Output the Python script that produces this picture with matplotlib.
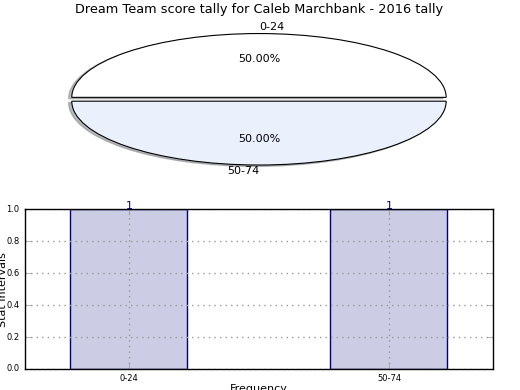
import matplotlib
matplotlib.use("Agg")
import matplotlib.pyplot as plt
import numpy as np

plt.style.use('classic')

title = "Dream Team score tally for Caleb Marchbank - 2016 tally"
categories = ["0-24", "50-74"]
counts = [1, 1]
pie_colors = ["#ffffff", "#eaf1fc"]
explode = [0.03, 0.03]

fig = plt.figure(figsize=(5.2, 3.9), dpi=100, facecolor='white')
fig.subplots_adjust(left=0.048, right=0.948, top=0.95, bottom=0.054, hspace=0.19)

ax1 = fig.add_subplot(211)
ax1.set_facecolor('white')
wedges, texts, autotexts = ax1.pie(counts, labels=categories, colors=pie_colors,
                                   explode=explode,
                                   shadow={'ox': -0.012, 'oy': -0.015, 'shade': 0.5},
                                   autopct='%1.2f%%',
                                   startangle=0, textprops={'fontsize': 8})
for w in wedges:
    w.set_linewidth(0.8)
texts[0].set_ha('left')
texts[1].set_ha('right')
ax1.set_aspect('auto')
ax1.set_title(title, fontsize=9.3)

ax2 = fig.add_subplot(212)
x = np.arange(len(categories))
bars = ax2.bar(x, counts, width=0.45, align='center', color='#ccccE5', edgecolor='navy')
for b, v in zip(bars, counts):
    ax2.text(b.get_x() + b.get_width() / 2, v, str(v), ha='center', va='baseline',
             color='navy', fontsize=8)
ax2.set_xticks(x)
ax2.set_xticklabels(categories, fontsize=6)
ax2.set_xlim(-0.4, 1.4)
ax2.set_ylim(0, 1.0)
ax2.set_yticks(np.arange(0, 1.01, 0.2))
ax2.tick_params(axis='y', labelsize=6)
ax2.tick_params(color='#999999')
ax2.grid(True, color='#999999', linestyle=':', linewidth=1)
for sp in ax2.spines.values():
    sp.set_zorder(3)
ax2.set_ylabel("Stat Intervals", fontsize=8)
ax2.yaxis.set_label_coords(-0.037, 0.5)
ax2.set_xlabel("Frequency", fontsize=8, va='top')
ax2.xaxis.set_label_coords(0.5, -0.094)

fig.savefig("out.png", dpi=100, facecolor='white')
